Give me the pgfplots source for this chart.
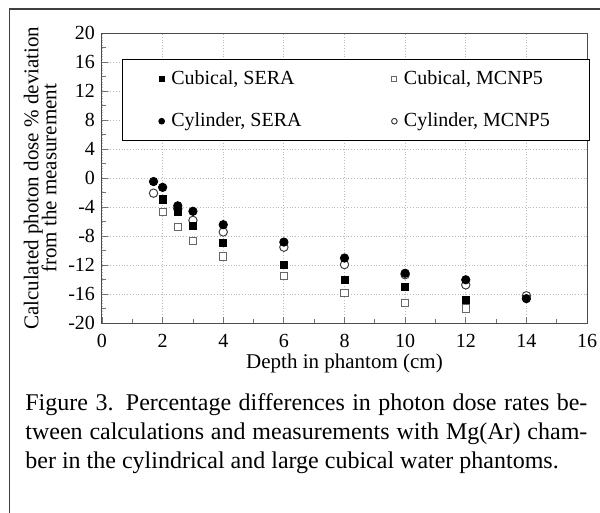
\documentclass[border=0pt]{standalone}
\usepackage{fontspec}
\setmainfont{Liberation Serif}
\usepackage{pgfplots}
\pgfplotsset{compat=1.18}
\pgfplotsset{
  cubS/.style={only marks, mark=square*, mark size=1.8pt, draw=black, fill=black},
  cubM/.style={only marks, mark=square*, mark size=1.8pt, draw=black!60, fill=white, mark options={line width=0.5pt}},
  cylS/.style={only marks, mark=*, mark size=2.1pt, draw=black, fill=black},
  cylM/.style={only marks, mark=*, mark size=2.1pt, draw=black!75, fill=white, mark options={line width=0.5pt}},
}
\begin{document}
\begin{tikzpicture}[x=1pt,y=1pt]
\path[use as bounding box] (0,0) rectangle (300,256.5);
\draw[line width=0.8pt, black!75] (4.65,0) -- (4.65,251.85) -- (300,251.85);
\begin{axis}[
  at={(51pt,94.85pt)}, anchor=south west,
  scale only axis, width=242.5pt, height=145pt,
  xmin=0, xmax=16, ymin=-20, ymax=20,
  xtick={0,2,...,16}, ytick={-20,-16,...,20},
  minor xtick={1,3,...,15}, minor ytick={-18,-14,...,18},
  grid=major, major grid style={densely dotted, gray!55, line width=0.4pt},
  axis line style={black!70, line width=0.5pt},
  tick style={black!55, line width=0.4pt},
  major tick length=3pt, minor tick length=2pt,
  tick pos=left, tick align=inside,
  /pgf/number format/assume math mode=true,
  ticklabel style={font=\fontsize{10}{11}\selectfont},
  xticklabel style={yshift=-2pt},
  xlabel={Depth in phantom (cm)},
  ylabel={Calculated photon dose \% deviation\\[-3pt]from the measurement},
  label style={font=\fontsize{10.5}{12}\selectfont},
  ylabel style={align=center, yshift=-1pt},
  xlabel style={yshift=4pt},
  legend columns=2,
  legend cell align=left,
  legend style={at={(0.042,0.91)}, anchor=north west, draw=black, line width=0.5pt,
    font=\fontsize{10}{12}\selectfont, inner xsep=18pt, inner ysep=3.5pt,
    /tikz/every even column/.append style={column sep=43pt}, row sep=8.5pt},
  legend image code/.code={\path[draw=none,fill=none] (2pt,0pt) -- (6.2pt,0pt); \draw[#1] plot coordinates {(3.4pt,0pt)};},
]
\addlegendimage{cubS, mark size=1.3pt}
\addlegendentry{Cubical, SERA}
\addlegendimage{cubM, mark size=1.3pt}
\addlegendentry{Cubical, MCNP5}
\addlegendimage{cylS, mark size=1.4pt}
\addlegendentry{Cylinder, SERA}
\addlegendimage{cylM, mark size=1.4pt}
\addlegendentry{Cylinder, MCNP5}

% Cubical, MCNP5
\addplot[cubM, forget plot] coordinates {
  (2,-4.7) (2.5,-6.75) (3,-8.6) (4,-10.8) (6,-13.45) (8,-15.85) (10,-17.2) (12,-17.95)};
% Cylinder, MCNP5
\addplot[cylM, forget plot] coordinates {
  (1.7,-2.05) (2.5,-4.2) (3,-5.8) (4,-7.4) (6,-9.5) (8,-11.9) (10,-13.3) (12,-14.7) (14,-16.2)};
% Cubical, SERA
\addplot[cubS, forget plot] coordinates {
  (2,-2.9) (2.5,-4.6) (3,-6.55) (4,-8.95) (6,-11.95) (8,-14.0) (10,-15.0) (12,-16.8)};
% Cylinder, SERA
\addplot[cylS, forget plot] coordinates {
  (1.7,-0.45) (2,-1.25) (2.5,-3.8) (3,-4.55) (4,-6.4) (6,-8.8) (8,-11.0) (10,-13.1) (12,-14.0) (14,-16.6)};
\end{axis}
\node[anchor=north west, inner sep=0pt, text width=281pt, align=justify,
  font=\fontsize{12}{14.5}\selectfont] at (12.5,60)
  {Figure 3. Percentage differences in photon dose rates be-\linebreak tween calculations and measurements with Mg(Ar) cham-\linebreak ber in the cylindrical and large cubical water phantoms.};
\end{tikzpicture}
\end{document}
